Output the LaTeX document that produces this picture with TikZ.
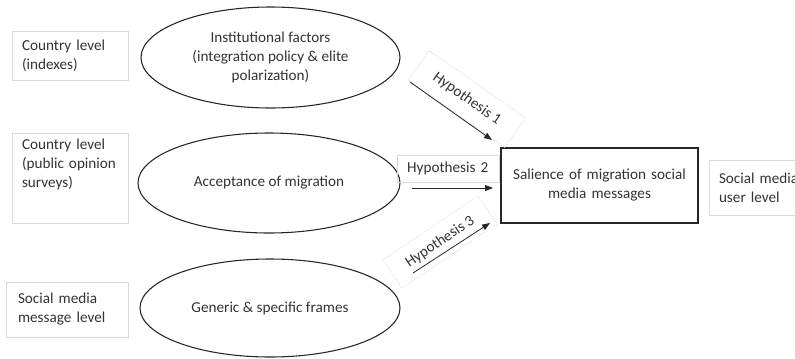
\documentclass[tikz,border=0pt]{standalone}
\usepackage{fontspec}
\setmainfont{Carlito}
\usetikzlibrary{arrows.meta, positioning, shapes.geometric}
\tikzset{
	levelbox/.style={draw=gray!30, line width=0.6pt, align=left, inner ysep=0pt, font=\fontsize{11.4}{14.25}\selectfont\color{black!80}}
}
\tikzset{
	factor/.style={ellipse, draw=black!85, line width=0.8pt, align=center, inner sep=0pt, font=\fontsize{11.4}{14.25}\selectfont\color{black!80}}
}
\tikzset{
	hypobox/.style={draw=gray!35, densely dotted, line width=0.5pt, inner sep=0pt, font=\fontsize{11.4}{14.25}\selectfont\color{black!80}}
}
\tikzset{
	hypoarrow/.style={line width=0.6pt, black!85, -{Triangle[length=6pt,width=4.5pt]}}
}

\begin{document}
\begin{tikzpicture}[x=0.75pt, y=-0.75pt]
	\useasboundingbox (0,0) rectangle (795,358);
	% measurement levels
	\node[levelbox, text width=72pt, inner xsep=7.5pt, minimum height=36.75pt] (lvlA) at (70,55.5) {Country level\\(indexes)};
	\node[levelbox, text width=72pt, inner xsep=7.5pt, minimum height=67.5pt] (lvlB) at (70,178) {};
	\node[levelbox, draw=none, anchor=north west, text width=72pt, inner xsep=7.5pt, inner ysep=4.5pt] (lvlBtxt) at (lvlB.north west) {Country level\\(public opinion\\surveys)};
	\node[levelbox, text width=73.5pt, inner xsep=9pt, minimum height=41.25pt] (lvlC) at (67,309.5) {Social media\\message level};
	\node[levelbox, text width=68.25pt, inner xsep=7.5pt, minimum height=41.25pt] (lvlD) at (764.5,187.5) {Social media\\user level};
	% predictors
	\node[factor, minimum width=194.25pt, minimum height=75.75pt] (inst) at (270.5,57.5) {Institutional factors\\(integration policy \& elite\\polarization)};
	\node[factor, minimum width=196.5pt, minimum height=75pt] (accept) at (269,183) {Acceptance of migration};
	\node[factor, minimum width=195pt, minimum height=73.5pt] (frames) at (270,308) {Generic \& specific frames};
	% outcome
	\node[draw=black!85, line width=0.9pt, align=center, text width=135pt, minimum width=147.75pt, minimum height=56.25pt, inner sep=0pt, font=\fontsize{11.4}{14.25}\selectfont\color{black!80}] (salience) at (599.5,185.5) {Salience of migration social\\media messages};
	% hypotheses
	\node[hypobox, rotate=-35, minimum width=88pt, minimum height=27pt] (hypA) at (467,99) {Hypothesis 1};
	\node[levelbox, text width=62pt, inner xsep=7.5pt, minimum height=20.25pt] (hypB) at (448.5,168.5) {Hypothesis 2};
	\node[hypobox, rotate=34, minimum width=86pt, minimum height=25.5pt] (hypC) at (440,242) {Hypothesis 3};
	\coordinate (hAs) at (410,82);
	\coordinate (hAe) at (492,140);
	\coordinate (hBs) at (412,188);
	\coordinate (hBe) at (493,188);
	\coordinate (hCs) at (413,273);
	\coordinate (hCe) at (490,223);
	\draw[hypoarrow] (hAs) -- (hAe);
	\draw[hypoarrow] (hBs) -- (hBe);
	\draw[hypoarrow] (hCs) -- (hCe);
\end{tikzpicture}
\end{document}
